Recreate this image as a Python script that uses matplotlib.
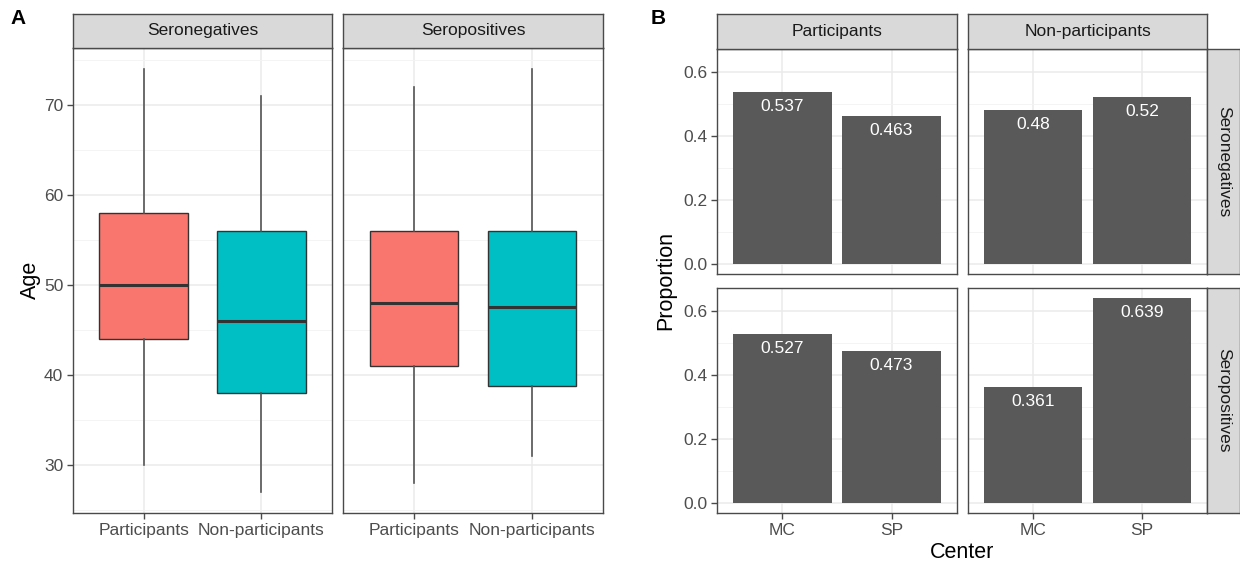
import numpy as np
import matplotlib.pyplot as plt
from matplotlib.ticker import MultipleLocator

plt.rcParams['font.family'] = ['Liberation Sans', 'DejaVu Sans']

W, H = 1240, 567

# Panel A: age box plots (stats)
groups = ['Participants', 'Non-participants']
sero = ['Seronegatives', 'Seropositives']
box_colors = ['#F8766D', '#00BFC4']
whislo = {'Seronegatives': [30, 27], 'Seropositives': [28, 31]}
q1 = {'Seronegatives': [44, 38], 'Seropositives': [41, 38.75]}
med = {'Seronegatives': [50, 46], 'Seropositives': [48, 47.5]}
q3 = {'Seronegatives': [58, 56], 'Seropositives': [56, 56]}
whishi = {'Seronegatives': [74, 71], 'Seropositives': [72, 74]}

# Panel B: proportion by center
centers = ['MC', 'SP']
part = ['Participants', 'Non-participants']
prop = {
    ('Seronegatives', 'Participants'): [0.537, 0.463],
    ('Seronegatives', 'Non-participants'): [0.48, 0.52],
    ('Seropositives', 'Participants'): [0.527, 0.473],
    ('Seropositives', 'Non-participants'): [0.361, 0.639],
}

BORDER = '#4A4A4A'
GRID = '#EBEBEB'
TICKTXT = '#4D4D4D'
STRIP = '#D9D9D9'

fig = plt.figure(figsize=(W / 100, H / 100), dpi=100)


def ax_at(x0, y0, x1, y1):
    return fig.add_axes([x0 / W, 1 - y1 / H, (x1 - x0) / W, (y1 - y0) / H])


def style(ax):
    for s in ax.spines.values():
        s.set_color(BORDER)
        s.set_linewidth(1.0)
    ax.tick_params(colors=BORDER, labelcolor=TICKTXT, labelsize=12.5, length=4, width=1.0, pad=3)
    ax.tick_params(which='minor', length=0)
    ax.grid(True, which='major', color=GRID, linewidth=1.1, zorder=0)
    ax.grid(True, which='minor', axis='y', color='#F3F3F3', linewidth=0.6, zorder=0)
    ax.set_axisbelow(True)


def strip(x0, y0, x1, y1, label, rot=0):
    s = ax_at(x0, y0, x1, y1)
    s.set_facecolor(STRIP)
    s.set_xticks([])
    s.set_yticks([])
    for sp in s.spines.values():
        sp.set_color(BORDER)
        sp.set_linewidth(1.0)
    s.text(0.5, 0.5, label, ha='center', va='center', rotation=rot,
           fontsize=12.5, color='#1A1A1A', transform=s.transAxes)


# ---- A ----
a_cols = [(73, 332), (343, 603)]
for (x0, x1), sname in zip(a_cols, sero):
    ax = ax_at(x0, 48, x1, 513)
    style(ax)
    stats = []
    for i, g in enumerate(groups):
        stats.append(dict(med=med[sname][i], q1=q1[sname][i], q3=q3[sname][i],
                          whislo=whislo[sname][i], whishi=whishi[sname][i], label=g))
    bp = ax.bxp(stats, positions=[1, 2], widths=0.75, patch_artist=True, showcaps=False,
                showfliers=False,
                boxprops=dict(edgecolor='#333333', linewidth=1.0),
                whiskerprops=dict(color='#555555', linewidth=1.2),
                medianprops=dict(color='#333333', linewidth=2.2))
    for patch, c in zip(bp['boxes'], box_colors):
        patch.set_facecolor(c)
        patch.set_zorder(2)
    ax.set_xlim(0.4, 2.6)
    ax.set_ylim(24.65, 76.35)
    ax.yaxis.set_major_locator(MultipleLocator(10))
    ax.yaxis.set_minor_locator(MultipleLocator(5))
    ax.set_xticks([1, 2])
    ax.set_xticklabels(groups)
    if sname != sero[0]:
        ax.tick_params(axis='y', left=False, labelleft=False)
    strip(x0, 14, x1, 48, sname)

fig.text(18 / W, 1 - 19 / H, 'A', fontsize=15, fontweight='bold', ha='center', va='center')
fig.text(30 / W, 1 - 280 / H, 'Age', fontsize=15.5, rotation=90, ha='center', va='center')

# ---- B ----
b_cols = [(717, 957), (968, 1207)]
b_rows = [(49, 274), (288, 513)]
for r, (y0, y1) in enumerate(b_rows):
    for c, (x0, x1) in enumerate(b_cols):
        ax = ax_at(x0, y0, x1, y1)
        style(ax)
        vals = prop[(sero[r], part[c])]
        xs = np.arange(1, len(centers) + 1)
        ax.bar(xs, vals, width=0.9, color='#595959', zorder=2)
        for xv, v in zip(xs, vals):
            ax.annotate(f'{v:g}', (xv, v), xytext=(0, -10.5), textcoords='offset points',
                        ha='center', va='center', color='white', fontsize=12.5)
        ax.set_xlim(0.4, 2.6)
        ax.set_ylim(-0.032, 0.671)
        ax.yaxis.set_major_locator(MultipleLocator(0.2))
        ax.yaxis.set_minor_locator(MultipleLocator(0.1))
        ax.yaxis.set_major_formatter(plt.FuncFormatter(lambda v, p: f'{v:.1f}'))
        ax.set_xticks(xs)
        ax.set_xticklabels(centers)
        if c > 0:
            ax.tick_params(axis='y', left=False, labelleft=False)
        if r == 0:
            ax.tick_params(axis='x', bottom=False, labelbottom=False)
    strip(1207, y0, 1240, y1, sero[r], rot=-90)

for (x0, x1), pname in zip(b_cols, part):
    strip(x0, 14, x1, 49, pname)

fig.text(658 / W, 1 - 19 / H, 'B', fontsize=15, fontweight='bold', ha='center', va='center')
fig.text(666 / W, 1 - 281 / H, 'Proportion', fontsize=15.5, rotation=90, ha='center', va='center')
fig.text(962 / W, 1 - 553 / H, 'Center', fontsize=15.5, ha='center', va='center')

fig.savefig('out.png', dpi=100)
